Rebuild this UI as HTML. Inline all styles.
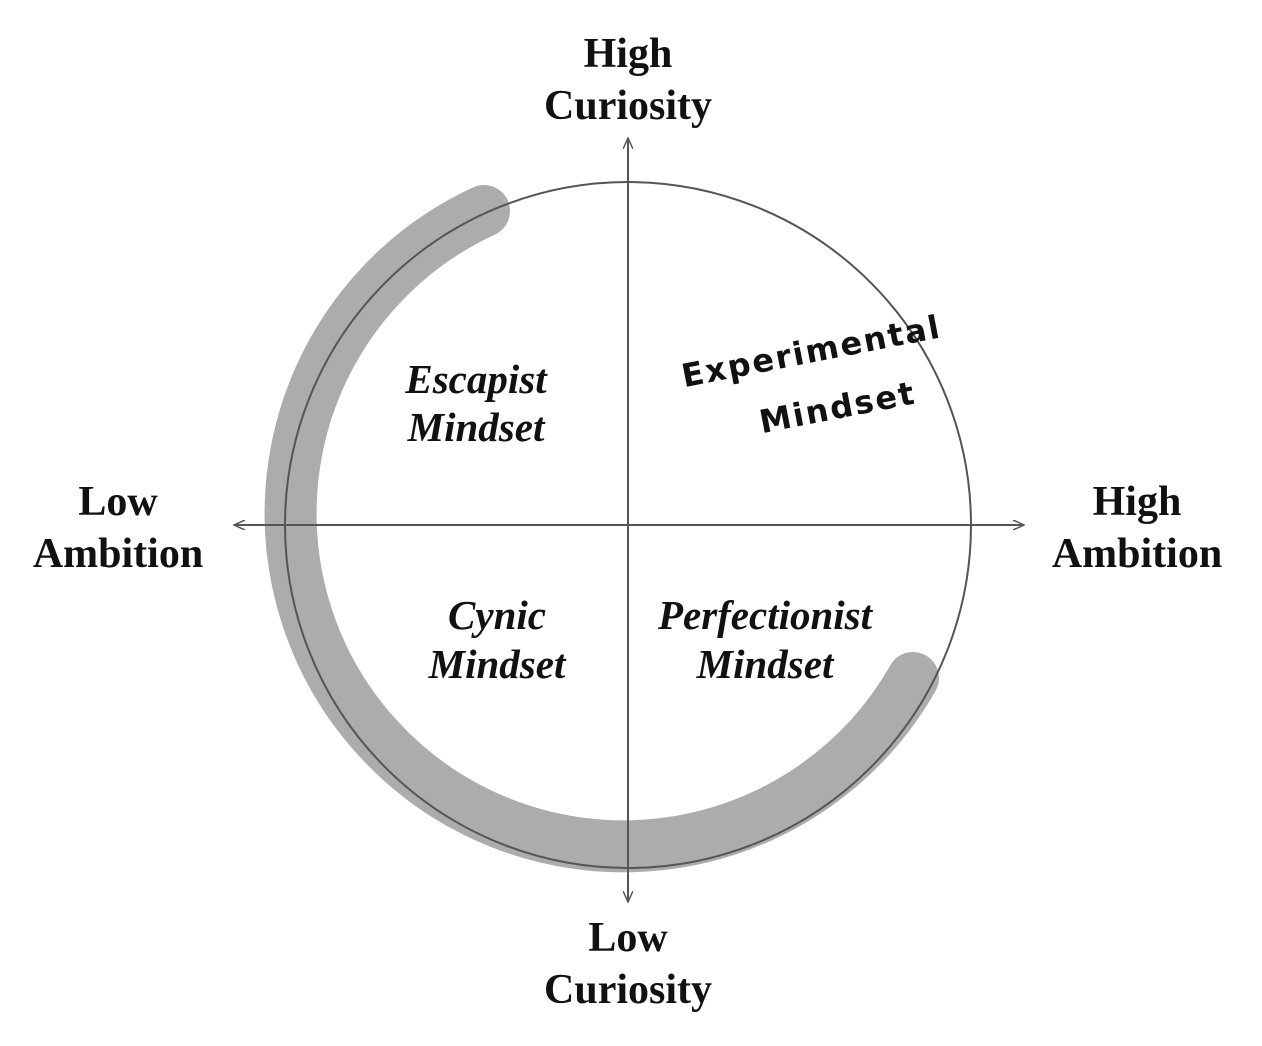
<!DOCTYPE html>
<html><head><meta charset="utf-8"><style>
html,body{margin:0;padding:0;background:#fff;}
svg{display:block;}
.t{font-family:"Liberation Serif",serif;font-weight:bold;font-size:42px;fill:#111;text-anchor:middle;}
.q{font-family:"Liberation Serif",serif;font-weight:bold;font-style:italic;font-size:41px;fill:#111;text-anchor:middle;}
.h{font-family:"DejaVu Sans",sans-serif;font-weight:bold;font-size:32px;fill:#111;text-anchor:middle;letter-spacing:2px;}
</style></head><body>
<svg width="1262" height="1046" viewBox="0 0 1262 1046" xmlns="http://www.w3.org/2000/svg">
<defs><marker id="a" markerWidth="12" markerHeight="10" refX="11" refY="5" orient="auto" markerUnits="userSpaceOnUse"><path d="M0,0 L11,5 L0,10" fill="none" stroke="#555" stroke-width="1.5"/></marker></defs>
<path d="M484,211 A333,333 0 1 0 913,678" fill="none" stroke="#acacac" stroke-width="52" stroke-linecap="round"/>
<circle cx="628" cy="525" r="343" fill="none" stroke="#555" stroke-width="2"/>
<line x1="628" y1="525" x2="234" y2="525" stroke="#555" stroke-width="2" marker-end="url(#a)"/>
<line x1="628" y1="525" x2="1024" y2="525" stroke="#555" stroke-width="2" marker-end="url(#a)"/>
<line x1="628" y1="525" x2="628" y2="138" stroke="#555" stroke-width="2" marker-end="url(#a)"/>
<line x1="628" y1="525" x2="628" y2="902" stroke="#555" stroke-width="2" marker-end="url(#a)"/>
<text class="t" x="628" y="67">High</text>
<text class="t" x="628" y="119">Curiosity</text>
<text class="t" x="628" y="951">Low</text>
<text class="t" x="628" y="1003">Curiosity</text>
<text class="t" x="118" y="515">Low</text>
<text class="t" x="118" y="567">Ambition</text>
<text class="t" x="1137" y="515">High</text>
<text class="t" x="1137" y="567">Ambition</text>
<text class="q" x="476" y="393">Escapist</text>
<text class="q" x="476" y="441">Mindset</text>
<text class="q" x="497" y="629">Cynic</text>
<text class="q" x="497" y="678">Mindset</text>
<text class="q" x="765" y="629">Perfectionist</text>
<text class="q" x="765" y="678">Mindset</text>
<g transform="rotate(-11 815 370)">
<text class="h" x="815" y="362">Experimental</text>
<text class="h" x="830" y="422">Mindset</text>
</g>
</svg>
</body></html>
